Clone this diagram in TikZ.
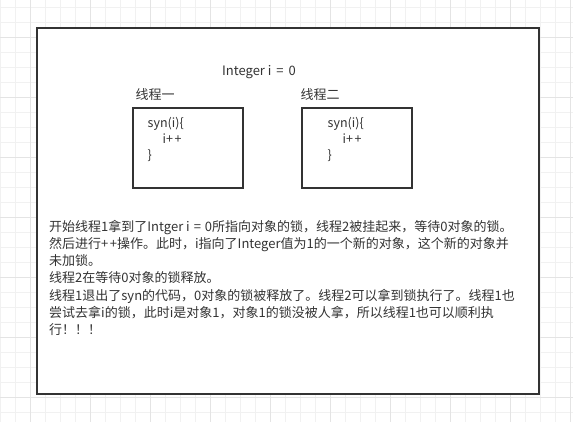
\documentclass[tikz,border=0pt]{standalone}
\usepackage{fontspec}
\setmainfont{Noto Sans CJK SC}
\usepackage{tikz}
\usetikzlibrary{positioning}
\definecolor{gridminor}{HTML}{F1F1F1}
\definecolor{gridmajor}{HTML}{E4E4E4}
\definecolor{ink}{HTML}{333333}
\tikzstyle{frame} = [rectangle, draw=ink, line width=2pt]
\tikzstyle{thread} = [rectangle, draw=ink, line width=2pt, minimum width=110pt, minimum height=80pt, inner sep=0pt]
\tikzstyle{code} = [align=left, inner sep=0pt, text=ink, font=\fontsize{12.5}{16}\selectfont]
\tikzstyle{label} = [inner sep=0pt, text=ink, font=\fontsize{13}{15}\selectfont]
\tikzstyle{note} = [align=left, inner sep=0pt, text=ink, font=\fontsize{13}{17.2}\selectfont]

\begin{document}
\begin{tikzpicture}[x=1pt, y=-1pt]
  \useasboundingbox (0,0) rectangle (573,422);
  %背景网格
  \foreach \gx in {0,...,38} {\draw[gridminor, line width=1pt] (0.7+15*\gx,0) -- (0.7+15*\gx,422);}
  \foreach \gy in {0,...,28} {\draw[gridminor, line width=1pt] (0,7.3+15*\gy) -- (573,7.3+15*\gy);}
  \foreach \gx in {0,...,9} {\draw[gridmajor, line width=1pt] (30.7+60*\gx,0) -- (30.7+60*\gx,422);}
  \foreach \gy in {0,...,6} {\draw[gridmajor, line width=1pt] (0,37.3+60*\gy) -- (573,37.3+60*\gy);}

  %外框
  \draw [frame, fill=white] (36.7,28) rectangle (539.3,394);

  %线程
  \node (var) [label] at (259,72) {Integer i\hspace{5pt}=\hspace{5pt}0};
  \node (box1) [thread] at (187.5,148.5) {};
  \node (box2) [thread, right=57pt of box1] {};
  \node (title1) [label, anchor=south west] at ([xshift=4pt,yshift=7pt]box1.north west) {线程一};
  \node (title2) [label, anchor=south west] at ([yshift=7pt]box2.north west) {线程二};
  \node (code1) [code, anchor=north west] at ([xshift=16pt,yshift=-10pt]box1.north west) {syn(i)\{\\\hspace{15pt}i+\hspace{1.5pt}+\\\}};
  \node (code2) [code, anchor=north west] at ([xshift=27pt,yshift=-10pt]box2.north west) {syn(i)\{\\\hspace{15pt}i+\hspace{1.5pt}+\\\}};

  %说明文字
  \node (note) [note, anchor=north west] at (49,220) {开始线程1拿到了Intger i\hspace{4pt}=\hspace{4pt}0所指向对象的锁，线程2被挂起来，等待0对象的锁。\\然后进行+\hspace{1.5pt}+操作。此时，i指向了Integer值为1的一个新的对象，这个新的对象并\\未加锁。\\线程2在等待0对象的锁释放。\\线程1退出了syn的代码，0对象的锁被释放了。线程2可以拿到锁执行了。线程1也\\尝试去拿i的锁，此时i是对象1，对象1的锁没被人拿，所以线程1也可以顺利执\\行！！！};
\end{tikzpicture}
\end{document}
